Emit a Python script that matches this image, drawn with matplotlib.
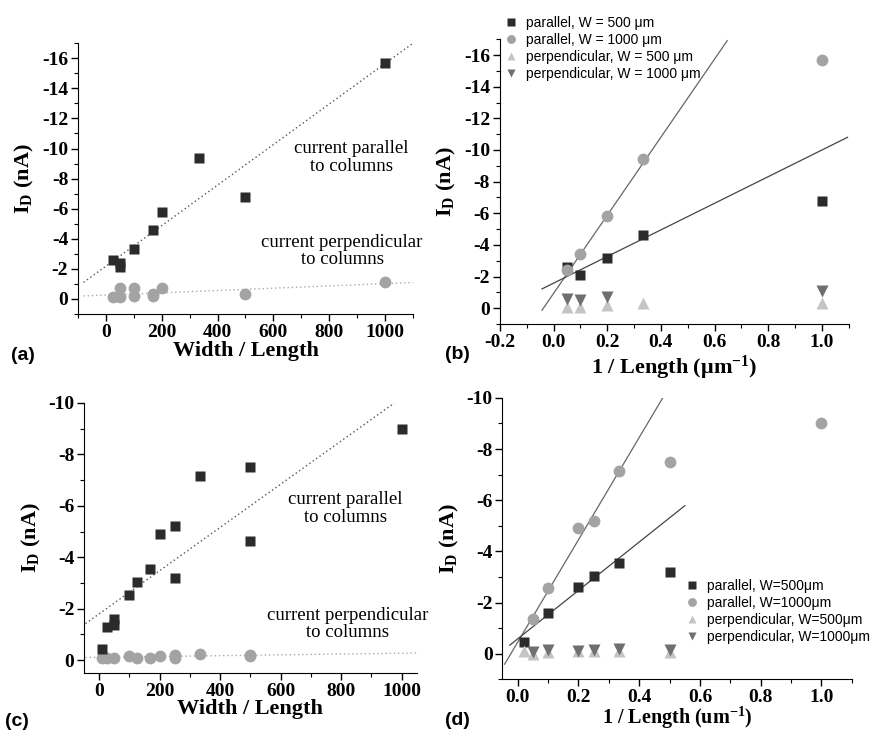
import matplotlib.pyplot as plt
import numpy as np
from matplotlib.ticker import MultipleLocator

plt.rcParams['axes.unicode_minus'] = False

# panel (a): Width/Length vs I_D
a_par_x = [25, 50, 50, 100, 167, 200, 333, 500, 1000]
a_par_y = [-2.6, -2.4, -2.1, -3.3, -4.6, -5.8, -9.4, -6.8, -15.7]
a_perp_x = [25, 50, 50, 100, 100, 167, 167, 200, 500, 1000]
a_perp_y = [-0.1, -0.7, -0.1, -0.7, -0.2, -0.2, -0.3, -0.75, -0.3, -1.15]
a_par_fit = (-2.18, -0.01347)    # intercept, slope
a_perp_fit = (-0.26, -0.00076)

# panel (b): 1/Length vs I_D
b_x_sq = [0.05, 0.1, 0.2, 0.333, 1.0]
b_y_sq = [-2.6, -2.1, -3.2, -4.6, -6.8]
b_x_ci = [0.05, 0.1, 0.2, 0.333, 1.0]
b_y_ci = [-2.4, -3.4, -5.8, -9.4, -15.7]
b_x_up = [0.05, 0.1, 0.2, 0.333, 1.0]
b_y_up = [-0.1, -0.1, -0.2, -0.35, -0.35]
b_x_dn = [0.05, 0.1, 0.2, 1.0]
b_y_dn = [-0.6, -0.5, -0.7, -1.1]
b_fit_steep = (-0.93, -24.7)
b_fit_flat = (-1.58, -8.42)

# panel (c)
c_par_x = [10, 25, 50, 50, 100, 125, 167, 200, 250, 250, 333, 500, 500, 1000]
c_par_y = [-0.45, -1.3, -1.35, -1.6, -2.55, -3.05, -3.55, -4.9, -5.2, -3.2, -7.15, -7.5, -4.65, -9.0]
c_perp_x = [10, 25, 50, 100, 125, 167, 200, 250, 250, 333, 500, 500]
c_perp_y = [-0.1, -0.1, -0.1, -0.15, -0.1, -0.1, -0.15, -0.2, -0.1, -0.25, -0.2, -0.15]
c_par_fit = (-1.80, -0.0084)
c_perp_fit = (-0.11, -0.00016)

# panel (d)
d_x_sq = [0.02, 0.1, 0.2, 0.25, 0.333, 0.5]
d_y_sq = [-0.45, -1.6, -2.6, -3.05, -3.55, -3.2]
d_x_ci = [0.05, 0.1, 0.2, 0.25, 0.333, 0.5, 1.0]
d_y_ci = [-1.35, -2.55, -4.9, -5.2, -7.15, -7.5, -9.0]
d_x_up = [0.02, 0.05, 0.1, 0.2, 0.25, 0.333, 0.5]
d_y_up = [-0.1, 0.0, -0.05, -0.1, -0.1, -0.1, -0.05]
d_x_dn = [0.05, 0.1, 0.2, 0.25, 0.333, 0.5]
d_y_dn = [-0.05, -0.15, -0.1, -0.15, -0.2, -0.15]
d_fit_steep = (-0.45, -20.0)
d_fit_flat = (-0.58, -9.46)

C_SQ = '#2b2b2b'
C_CI = '#a3a3a3'
C_UP = '#c4c4c4'
C_DN = '#6f6f6f'
SERIF = 'Liberation Serif'
SANS = 'Liberation Sans'
MS_SQ = 7
MS_CI = 8.5

fig = plt.figure(figsize=(8.8, 7.32), dpi=100)


def boldticks(ax):
    for lab in ax.get_xticklabels() + ax.get_yticklabels():
        lab.set_fontfamily(SERIF)
        lab.set_fontweight('bold')
        lab.set_fontsize(14)


def style(ax, xlim, ylim, xmaj, xmin, ymaj, ymin, xlabel):
    ax.set_xlim(*xlim)
    ax.set_ylim(*ylim)
    ax.spines['top'].set_visible(False)
    ax.spines['right'].set_visible(False)
    ax.xaxis.set_major_locator(MultipleLocator(xmaj))
    ax.xaxis.set_minor_locator(MultipleLocator(xmin))
    ax.yaxis.set_major_locator(MultipleLocator(ymaj))
    ax.yaxis.set_minor_locator(MultipleLocator(ymin))
    ax.tick_params(which='major', direction='out', length=5, width=1, pad=2)
    ax.tick_params(which='minor', direction='out', length=3, width=0.8)
    boldticks(ax)
    ax.set_xlabel(xlabel, fontfamily=SERIF, fontweight='bold', fontsize=16, labelpad=0)
    ax.set_ylabel(r'I$_\mathregular{D}$ (nA)', fontfamily=SERIF, fontweight='bold', fontsize=16)


def fitline(ax, fit, x0, x1, **kw):
    xs = np.array([x0, x1])
    ax.plot(xs, fit[0] + fit[1] * xs, **kw)


def note(ax, x, y, s):
    ax.text(x, y, s, ha='center', va='center', fontfamily=SERIF, fontsize=13.5, linespacing=1.05)


LEG = dict(loc='upper left', frameon=False, prop={'family': SANS, 'size': 10},
           markerscale=0.75, handletextpad=0.5, labelspacing=0.2, handlelength=1.2, borderpad=0.2)

# (a)
ax = fig.add_axes([0.0886, 0.571, 0.3807, 0.370])
fitline(ax, a_par_fit, -80, 1100, color='#555555', ls=(0, (1, 2)), lw=1)
fitline(ax, a_perp_fit, -80, 1100, color='#aaaaaa', ls=(0, (1, 2)), lw=1)
ax.plot(a_perp_x, a_perp_y, 'o', color=C_CI, ms=MS_CI, mec='none')
ax.plot(a_par_x, a_par_y, 's', color=C_SQ, ms=MS_SQ, mec='none')
style(ax, (-100, 1100), (1, -17), 200, 100, 2, 1, 'Width / Length')
ax.yaxis.set_major_locator(plt.FixedLocator(np.arange(-16, 1, 2)))
boldticks(ax)
note(ax, 880, -9.4, 'current parallel\nto columns')
note(ax, 846, -3.2, 'current perpendicular\nto columns')
fig.text(0.012, 0.508, '(a)', fontfamily=SANS, fontweight='bold', fontsize=14)

# (b)
ax = fig.add_axes([0.568, 0.5574, 0.3966, 0.389])
fitline(ax, b_fit_steep, -0.043, 0.647, color='#666666', lw=0.9)
fitline(ax, b_fit_flat, -0.043, 1.095, color='#444444', lw=0.9)
ax.plot(b_x_sq, b_y_sq, 's', color=C_SQ, ms=MS_SQ, mec='none', label='parallel, W = 500 μm')
ax.plot(b_x_ci, b_y_ci, 'o', color=C_CI, ms=MS_CI, mec='none', label='parallel, W = 1000 μm')
ax.plot(b_x_up, b_y_up, '^', color=C_UP, ms=MS_CI, mec='none', label='perpendicular, W = 500 μm')
ax.plot(b_x_dn, b_y_dn, 'v', color=C_DN, ms=MS_CI, mec='none', label='perpendicular, W = 1000 μm')
style(ax, (-0.2, 1.1), (1, -17), 0.2, 0.1, 2, 1, r'1 / Length ($\mathregular{\mu m^{-1}}$)')
ax.yaxis.set_major_locator(plt.FixedLocator(np.arange(-16, 1, 2)))
ax.xaxis.set_major_formatter(plt.FuncFormatter(lambda v, p: '%.1f' % v))
boldticks(ax)
ax.xaxis.set_label_coords(0.5, -0.105)
ax.legend(bbox_to_anchor=(-0.02, 1.115), **LEG)
fig.text(0.506, 0.510, '(b)', fontfamily=SANS, fontweight='bold', fontsize=14)

# (c)
ax = fig.add_axes([0.0955, 0.0806, 0.378, 0.3689])
fitline(ax, c_par_fit, -45, 976, color='#555555', ls=(0, (1, 2)), lw=1)
fitline(ax, c_perp_fit, -45, 1050, color='#aaaaaa', ls=(0, (1, 2)), lw=1)
ax.plot(c_perp_x, c_perp_y, 'o', color=C_CI, ms=MS_CI, mec='none')
ax.plot(c_par_x, c_par_y, 's', color=C_SQ, ms=MS_SQ, mec='none')
style(ax, (-50, 1050), (0.5, -10), 200, 100, 2, 1, 'Width / Length')
ax.xaxis.labelpad = -0.5
note(ax, 814, -5.9, 'current parallel\nto columns')
note(ax, 822, -1.4, 'current perpendicular\nto columns')
fig.text(0.006, 0.008, '(c)', fontfamily=SANS, fontweight='bold', fontsize=14)

# (d)
ax = fig.add_axes([0.571, 0.072, 0.397, 0.3845])
fitline(ax, d_fit_steep, -0.043, 0.477, color='#666666', lw=0.9)
fitline(ax, d_fit_flat, -0.026, 0.55, color='#444444', lw=0.9)
ax.plot(d_x_sq, d_y_sq, 's', color=C_SQ, ms=MS_SQ, mec='none', label='parallel, W=500μm')
ax.plot(d_x_ci, d_y_ci, 'o', color=C_CI, ms=MS_CI, mec='none', label='parallel, W=1000μm')
ax.plot(d_x_up, d_y_up, '^', color=C_UP, ms=MS_CI, mec='none', label='perpendicular, W=500μm')
ax.plot(d_x_dn, d_y_dn, 'v', color=C_DN, ms=MS_CI, mec='none', label='perpendicular, W=1000μm')
style(ax, (-0.05, 1.1), (1, -10), 0.2, 0.1, 2, 1, r'1 / Length (um$\mathregular{^{-1}}$)')
ax.xaxis.set_major_locator(plt.FixedLocator([0.0, 0.2, 0.4, 0.6, 0.8, 1.0]))
ax.xaxis.set_major_formatter(plt.FuncFormatter(lambda v, p: '%.1f' % v))
boldticks(ax)
ax.xaxis.label.set_fontsize(14.5)
ax.xaxis.set_label_coords(0.5, -0.092)
ax.legend(bbox_to_anchor=(0.49, 0.39), **LEG)
fig.text(0.506, 0.010, '(d)', fontfamily=SANS, fontweight='bold', fontsize=14)

fig.savefig('out.png', dpi=100)
